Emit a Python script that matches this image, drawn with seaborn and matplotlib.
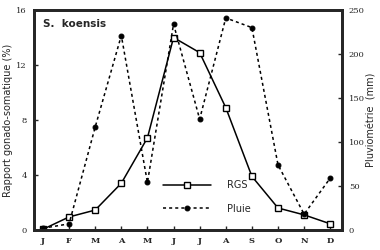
import matplotlib
matplotlib.use("Agg")
import matplotlib.pyplot as plt
import seaborn as sns
import pandas as pd
import numpy as np

months = ["J", "F", "M", "A", "M", "J", "J", "A", "S", "O", "N", "D"]
rgs = [0.05, 0.95, 1.45, 3.4, 6.7, 14.0, 12.9, 8.9, 3.9, 1.6, 1.1, 0.45]
pluie = [2, 7, 117, 221, 54, 234, 126, 241, 230, 74, 18, 59]
left_ticks = [0, 4, 8, 12, 16]
right_ticks = [0, 50, 100, 150, 200, 250]

sns.set_style("ticks")
plt.rcParams["font.family"] = ["DejaVu Sans"]

df = pd.DataFrame({"x": np.arange(len(months)), "rgs": rgs, "pluie": pluie})

fig = plt.figure(figsize=(3.8, 2.5), dpi=100)
ax = fig.add_axes([0.089, 0.08, 0.811, 0.88])
ax2 = ax.twinx()

sns.lineplot(data=df, x="x", y="rgs", ax=ax, color="black", lw=1.1,
             marker="s", markersize=4.5, markerfacecolor="white",
             markeredgecolor="black", markeredgewidth=1.0, label="RGS",
             legend=False)
sns.lineplot(data=df, x="x", y="pluie", ax=ax2, color="black", lw=1.1,
             linestyle=(0, (2, 2)), marker="o", markersize=3.5,
             markerfacecolor="black", markeredgecolor="black",
             label="Pluie", legend=False)

ax.set_xlim(-0.35, 11.45)
ax.set_ylim(0, 16)
ax2.set_ylim(0, 250)
ax.set_xticks(np.arange(len(months)))
ax.set_xticklabels(months, family="DejaVu Serif", fontsize=6, fontweight="bold")
ax.set_yticks(left_ticks)
ax.set_yticklabels([str(t) for t in left_ticks], family="DejaVu Serif", fontsize=6)
ax2.set_yticks(right_ticks)
ax2.set_yticklabels([str(t) for t in right_ticks], family="DejaVu Serif", fontsize=6)

for a in (ax, ax2):
    a.tick_params(direction="in", length=3, width=1, pad=5)
    for s in a.spines.values():
        s.set_linewidth(2)
        s.set_visible(True)
ax.set_xlabel("")
ax.set_ylabel("Rapport gonado-somatique (%)", fontsize=7, labelpad=2)
ax2.set_ylabel("Pluviométrie  (mm)", fontsize=7, labelpad=1)

ax.text(0.03, 0.935, "S.  koensis", transform=ax.transAxes, fontsize=7.5,
        fontweight="bold", va="center", ha="left")

h1, l1 = ax.get_legend_handles_labels()
h2, l2 = ax2.get_legend_handles_labels()
ax2.legend(h1 + h2, l1 + l2, loc="center left", bbox_to_anchor=(0.39, 0.15),
           frameon=False, fontsize=7, handlelength=5.0, handletextpad=1.6,
           labelspacing=1.4)

fig.savefig("out.png", dpi=100)
